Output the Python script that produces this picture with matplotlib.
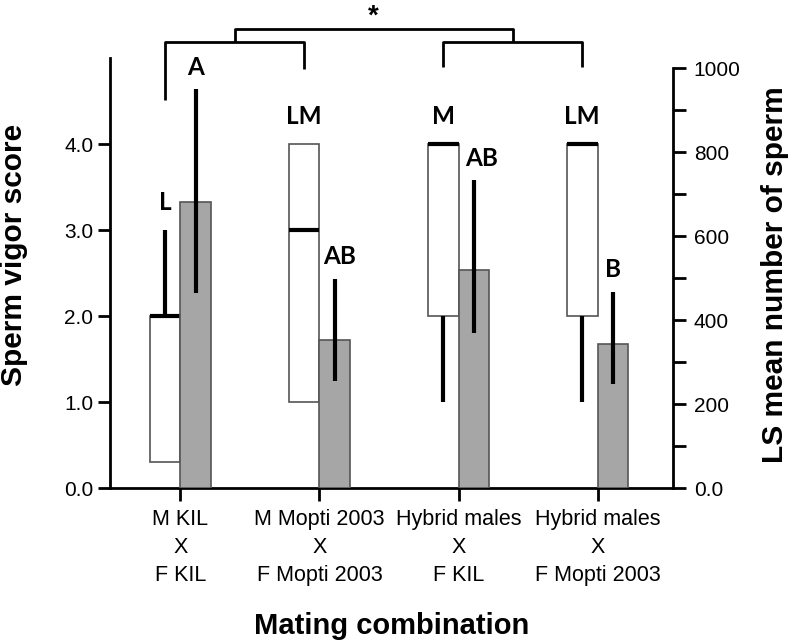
import matplotlib
matplotlib.use("Agg")
import matplotlib.pyplot as plt
import numpy as np
from matplotlib.ticker import FixedLocator, MultipleLocator

# ---------------- data ----------------
categories = ["M KIL\nX\nF KIL",
              "M Mopti 2003\nX\nF Mopti 2003",
              "Hybrid males\nX\nF KIL",
              "Hybrid males\nX\nF Mopti 2003"]
vigor_low = [0.3, 1.0, 1.0, 1.0]
vigor_q1 = [0.3, 1.0, 2.0, 2.0]
vigor_median = [2.0, 3.0, 4.0, 4.0]
vigor_q3 = [2.0, 4.0, 4.0, 4.0]
vigor_high = [3.0, 4.0, 4.0, 4.0]
vigor_letters = ["L", "LM", "M", "LM"]

sperm_mean = [680, 352, 519, 343]
sperm_lower = [464, 255, 369, 248]
sperm_upper = [950, 498, 733, 467]
sperm_letters = ["A", "AB", "AB", "B"]

left_ticks = [0, 1, 2, 3, 4]
left_ticklabels = ["0.0", "1.0", "2.0", "3.0", "4.0"]
right_ticks = [0, 200, 400, 600, 800, 1000]
right_ticklabels = ["0.0", "200", "400", "600", "800", "1000"]

# ---------------- figure ----------------
plt.rcParams['font.family'] = ['Liberation Sans', 'DejaVu Sans']
fig = plt.figure(figsize=(7.93, 6.44), dpi=100)
ax = fig.add_axes([110/793, 1-488/644, 563/793, 430/644])
ax2 = ax.twinx()
ax2.set_position(ax.get_position())

x = np.arange(len(categories))
bw = 0.22

# white boxes (vigor score)
ax.bar(x, np.array(vigor_q3) - np.array(vigor_q1), bottom=vigor_q1, width=-bw,
       align='edge', facecolor='white', edgecolor='#555555', linewidth=1.2, zorder=2)
ax.hlines(vigor_median, x - bw, x, colors='black', linewidth=3, zorder=3)
bc = x - bw/2
ax.vlines(bc, vigor_q3, vigor_high, colors='black', linewidth=3, zorder=3)
ax.vlines(bc, vigor_low, vigor_q1, colors='black', linewidth=3, zorder=3)

# grey bars (sperm numbers)
mean = np.array(sperm_mean)
ax2.bar(x, mean, width=bw, align='edge', facecolor='#a6a6a6',
        edgecolor='#555555', linewidth=1.2, zorder=2)
ax2.errorbar(x + bw/2, mean, yerr=[mean - np.array(sperm_lower), np.array(sperm_upper) - mean],
             fmt='none', ecolor='black', elinewidth=3, capsize=0, zorder=3)

# letters
lfont = dict(family=['Lato', 'DejaVu Sans'], fontsize=17.5, fontweight='bold')
for xi, yv, t in zip(bc, vigor_high, vigor_letters):
    ax.annotate(t, (xi, yv), xytext=(0, 27), textcoords='offset pixels',
                ha='center', va='center', annotation_clip=False, **lfont)
sp_dx = [0, 5, 8, 0]
for xi, yv, t, dx in zip(x + bw/2, sperm_upper, sperm_letters, sp_dx):
    ax2.annotate(t, (xi, yv), xytext=(dx, 22), textcoords='offset pixels',
                 ha='center', va='center', annotation_clip=False, **lfont)

# axes limits
ax.set_xlim(-0.507, 3.543)
ax.set_ylim(0, 5.0)
ax2.set_ylim(0, 1024)

# significance brackets
lw_b = 2
def seg(xs, ys):
    ax.plot(xs, ys, color='black', linewidth=lw_b, clip_on=False, solid_capstyle='butt', zorder=4)

yb, ytop = 5.19, 5.34
seg([bc[0], bc[0], bc[1], bc[1]], [4.51, yb, yb, 4.87])
seg([bc[2], bc[2], bc[3], bc[3]], [4.90, yb, yb, 4.90])
c1 = (bc[0] + bc[1]) / 2
c2 = (bc[2] + bc[3]) / 2
seg([c1, c1, c2, c2], [yb, ytop, ytop, yb])
ax.text((c1 + c2) / 2, 5.40, "*", ha='center', va='baseline', fontsize=20,
        fontweight='bold', clip_on=False)

# spines
for s in ['top', 'right']:
    ax.spines[s].set_visible(False)
for s in ['top', 'left', 'bottom']:
    ax2.spines[s].set_visible(False)
ax.spines['left'].set_linewidth(2)
ax.spines['bottom'].set_linewidth(2)
ax2.spines['right'].set_linewidth(2)
ax2.spines['right'].set_bounds(0, 1000)

# ticks
ax.set_xticks(x)
ax.set_xticklabels(categories, fontsize=15.5, linespacing=1.45)
ax.set_yticks(left_ticks)
ax.set_yticklabels(left_ticklabels, fontsize=15)
ax.tick_params(axis='y', length=9, width=2, pad=3)
ax.tick_params(axis='x', length=9, width=2, pad=6)

ax2.yaxis.set_major_locator(FixedLocator(right_ticks))
ax2.set_yticklabels(right_ticklabels, fontsize=15)
ax2.yaxis.set_minor_locator(FixedLocator([100, 300, 500, 700, 900]))
ax2.tick_params(axis='y', which='both', length=9, width=2, pad=6)

# axis labels
fig.text(14/793, 1-255/644, "Sperm vigor score", rotation=90, ha='center', va='center',
         fontsize=21.5, fontweight='bold')
fig.text(775/793, 1-275/644, "LS mean number of sperm", rotation=90, ha='center', va='center',
         fontsize=21.5, fontweight='bold')
fig.text(392/793, 1-626/644, "Mating combination", ha='center', va='center',
         fontsize=21, fontweight='bold')

fig.savefig("out.png", dpi=100)
